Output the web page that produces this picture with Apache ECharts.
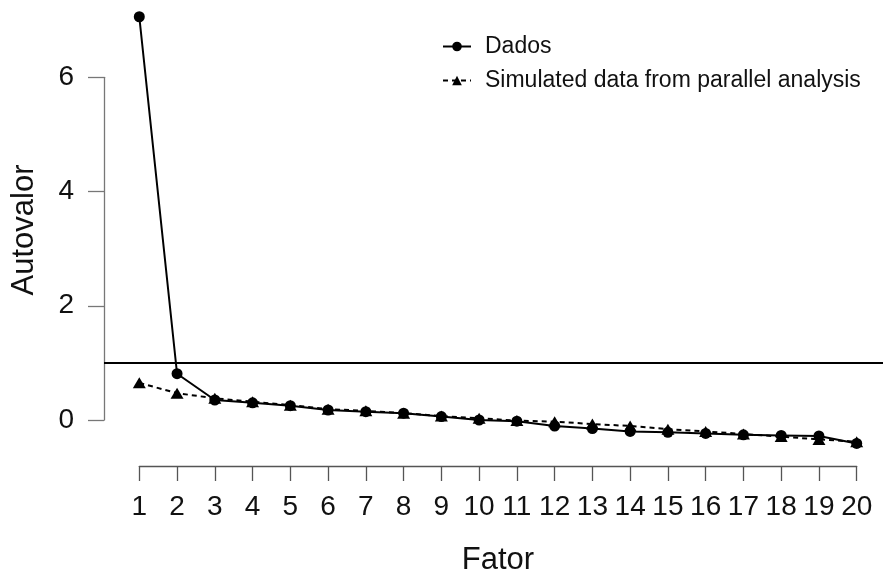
<!DOCTYPE html>
<html>
<head>
<meta charset="utf-8">
<script src="https://cdn.jsdelivr.net/npm/echarts@6/dist/echarts.min.js"></script>
<style>
html,body{margin:0;padding:0;background:#fff;}
#chart{width:883px;height:577px;}
</style>
</head>
<body>
<div id="chart"></div>
<script>
// ---- data ----
const factors = [1,2,3,4,5,6,7,8,9,10,11,12,13,14,15,16,17,18,19,20];
const dados = [7.06,0.81,0.35,0.30,0.25,0.175,0.145,0.12,0.06,0.0,-0.02,-0.105,-0.15,-0.20,-0.215,-0.235,-0.26,-0.27,-0.28,-0.41];
const simulated = [0.65,0.47,0.38,0.32,0.26,0.19,0.16,0.12,0.07,0.03,-0.01,-0.03,-0.07,-0.105,-0.16,-0.20,-0.245,-0.29,-0.34,-0.38];
const yTicks = [0, 2, 4, 6];
const kaiserLine = 1;
const seriesNames = ['Dados', 'Simulated data from parallel analysis'];
const xTitle = 'Fator';
const yTitle = 'Autovalor';

// ---- layout ----
const FONT = '"Liberation Sans", Arial, sans-serif';
const W = 883, H = 577;
const yAxisX = 104;
const xFirst = 139.3, xLast = 856.7;
const yZero = 420, ySix = 77.3;
const xAxisY = 466;
const pxPerX = (xLast - xFirst) / (factors.length - 1);
const pxPerY = (yZero - ySix) / 6;
const dataTop = 0, dataBottomPx = 460;
const xMinData = factors[0] - (xFirst - yAxisX) / pxPerX;
const xMaxData = factors[factors.length - 1] + (W - xLast) / pxPerX;
const yMaxData = (yZero - dataTop) / pxPerY;
const yMinData = -(dataBottomPx - yZero) / pxPerY;

const chart = echarts.init(document.getElementById('chart'), null, {renderer: 'canvas'});
const axisGray = '#777';

const option = {
  backgroundColor: '#fff',
  animation: false,
  textStyle: {fontFamily: FONT, color: '#000'},
  legend: {
    orient: 'vertical',
    left: 437,
    top: 30,
    itemWidth: 28,
    itemHeight: 12,
    itemGap: 11,
    data: seriesNames,
    textStyle: {fontFamily: FONT, fontSize: 23, color: '#111', padding: [0,0,0,9]}
  },
  grid: [
    {left: yAxisX, right: 0, top: dataTop, bottom: H - dataBottomPx, containLabel: false, outerBoundsMode: 'none'},
    {left: yAxisX, width: 10, top: ySix, height: yZero - ySix, containLabel: false, outerBoundsMode: 'none'},
    {left: xFirst, width: xLast - xFirst, top: 400, bottom: H - xAxisY, containLabel: false, outerBoundsMode: 'none'}
  ],
  xAxis: [
    {gridIndex: 0, type: 'value', min: xMinData, max: xMaxData, show: false},
    {gridIndex: 1, type: 'value', show: false},
    {
      gridIndex: 2, type: 'value', min: factors[0], max: factors[factors.length-1], interval: 1,
      position: 'bottom',
      name: xTitle, nameLocation: 'middle', nameGap: 79,
      nameTextStyle: {fontFamily: FONT, fontSize: 31, color: '#111'},
      axisLine: {show: true, onZero: false, lineStyle: {color: '#555', width: 1.3}},
      axisTick: {show: true, length: 15, lineStyle: {color: '#555', width: 1.3}},
      axisLabel: {show: true, margin: 27, fontSize: 28, color: '#111', fontFamily: FONT, hideOverlap: false,
        formatter: v => String(v)},
      splitLine: {show: false}
    }
  ],
  yAxis: [
    {
      gridIndex: 0, type: 'value', min: yMinData, max: yMaxData,
      name: yTitle, nameLocation: 'middle', nameGap: 64,
      nameTextStyle: {fontFamily: FONT, fontSize: 31, color: '#111'},
      axisLine: {show: false}, axisTick: {show: false}, axisLabel: {show: false}, splitLine: {show: false}
    },
    {
      gridIndex: 1, type: 'value', min: yTicks[0], max: yTicks[yTicks.length-1], interval: 2,
      position: 'left',
      axisLine: {show: true, onZero: false, lineStyle: {color: axisGray, width: 1.3}},
      axisTick: {show: true, length: 16, lineStyle: {color: axisGray, width: 1.3}},
      axisLabel: {show: true, margin: 30, fontSize: 28, color: '#111', fontFamily: FONT},
      splitLine: {show: false}
    },
    {gridIndex: 2, type: 'value', show: false}
  ],
  series: [
    {
      name: seriesNames[1], type: 'line', xAxisIndex: 0, yAxisIndex: 0,
      data: factors.map((f, i) => [f, simulated[i]]),
      symbol: 'triangle', symbolSize: [13, 11],
      itemStyle: {color: '#000'},
      lineStyle: {color: '#000', width: 2, type: [5, 4]},
      z: 3
    },
    {
      name: seriesNames[0], type: 'line', xAxisIndex: 0, yAxisIndex: 0,
      data: factors.map((f, i) => [f, dados[i]]),
      symbol: 'circle', symbolSize: 11,
      itemStyle: {color: '#000'},
      lineStyle: {color: '#000', width: 2},
      z: 4,
      markLine: {
        silent: true, symbol: 'none', label: {show: false},
        lineStyle: {color: '#000', width: 2, type: 'solid'},
        data: [{yAxis: kaiserLine}]
      }
    }
  ]
};
chart.setOption(option);
</script>
</body>
</html>
